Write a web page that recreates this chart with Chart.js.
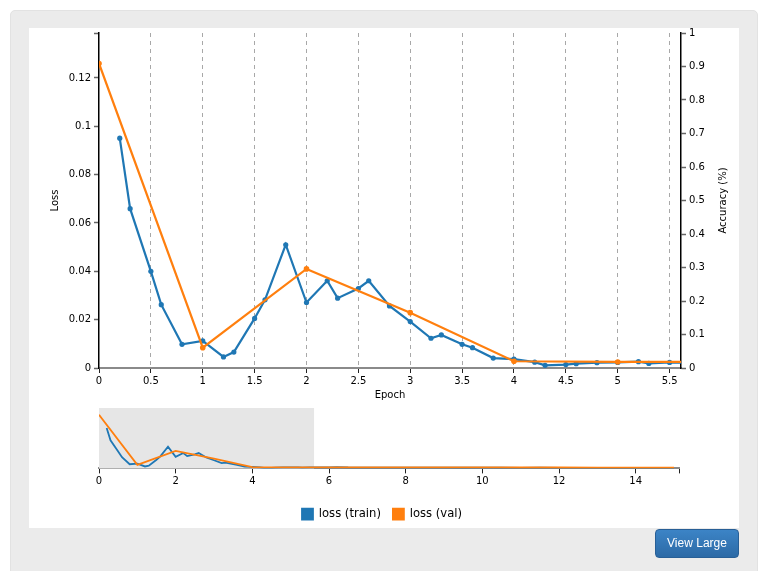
<!DOCTYPE html>
<html>
<head>
<meta charset="utf-8">
<script src="https://cdn.jsdelivr.net/npm/chart.js@4.4.0/dist/chart.umd.min.js"></script>
<style>
  body { margin: 0; background: #fff; width: 765px; height: 571px; overflow: hidden; position: relative; font-family: "DejaVu Sans", sans-serif; }
  #panel { position: absolute; left: 10px; top: 10px; width: 746px; height: 580px; background: #ebebeb; border: 1px solid #e2e2e2; border-radius: 5px; }
  #inner { position: absolute; left: 29px; top: 28px; width: 710px; height: 500px; background: #fff; }
  #main { position: absolute; left: 29px; top: 28px; }
  #mini { position: absolute; left: 29px; top: 400px; }
  #btn { position: absolute; left: 655px; top: 529px; width: 84px; height: 29px; box-sizing: border-box;
         background: linear-gradient(#3c84c6, #2c6aa6); border: 1px solid #285f96; border-radius: 4px;
         color: #fff; font: 12px "Liberation Sans", Arial, sans-serif; line-height: 27px; text-align: center; }
</style>
</head>
<body>
<div id="panel"></div>
<div id="inner"></div>
<canvas id="main" width="710" height="380"></canvas>
<canvas id="mini" width="710" height="130"></canvas>
<div id="btn">View Large</div>
<script>
// training loss, sampled inside each epoch
const trainEpoch = [0.2, 0.3, 0.5, 0.6, 0.8, 1.0, 1.2, 1.3, 1.5, 1.6, 1.8, 2.0, 2.2, 2.3, 2.5, 2.6, 2.8, 3.0,
  3.2, 3.3, 3.5, 3.6, 3.8, 4.0, 4.2, 4.3, 4.5, 4.6, 4.8, 5.0, 5.2, 5.3, 5.5, 5.8, 6.0, 6.2, 6.5, 7.0, 7.5,
  8.0, 8.5, 9.0, 9.5, 10.0, 10.5, 11.0, 11.5, 12.0, 12.5, 13.0, 13.5, 14.0, 14.5, 15.0];
const trainLoss = [0.0951, 0.0659, 0.0400, 0.0262, 0.0098, 0.0112, 0.0046, 0.0066, 0.0205, 0.0282, 0.0510,
  0.0271, 0.0361, 0.0289, 0.0329, 0.0361, 0.0257, 0.0192, 0.0123, 0.0137, 0.0098, 0.0084, 0.0041, 0.0037,
  0.0024, 0.0011, 0.0014, 0.0018, 0.0022, 0.0023, 0.0026, 0.0019, 0.0023, 0.0022, 0.0025, 0.0030, 0.0021,
  0.0019, 0.0018, 0.0017, 0.0016, 0.0016, 0.0015, 0.0016, 0.0015, 0.0014, 0.0015, 0.0014, 0.0014, 0.0013,
  0.0014, 0.0013, 0.0013, 0.0012];

// validation loss, once per epoch
const valEpoch = [0, 1, 2, 3, 4, 5, 6, 7, 8, 9, 10, 11, 12, 13, 14, 15];
const valLoss = [0.126, 0.0084, 0.041, 0.0229, 0.0028, 0.0025, 0.0026, 0.0024, 0.0023, 0.0022, 0.0022,
  0.0021, 0.0021, 0.0020, 0.0020, 0.0020];

const viewMax = 5.61;   // zoomed window shown in the big chart
const fullMax = 15.13;
const lossMax = 0.1386;

const BLUE = '#1f77b4';
const ORANGE = '#ff7f0e';
const tickFont = { family: 'DejaVu Sans', size: 10 };

function pts(xs, ys) {
  return xs.map((x, i) => ({ x: x, y: ys[i] }));
}
function fmt(v) {
  return String(Math.round(v * 1000) / 1000);
}
function fixWidth(w) {
  return s => { s.width = w; s.paddingTop = 0; s.paddingBottom = 0; };
}
// empty side axis, only there to hold space
function spacer(pos, w) {
  return { position: pos, display: true, afterFit: fixWidth(w),
           ticks: { display: false }, grid: { display: false }, border: { display: false } };
}

// right axis title reads bottom to top, like the left one
const accTitle = {
  id: 'accTitle',
  afterDraw(chart) {
    const { ctx, chartArea } = chart;
    const s = chart.scales.y1;
    ctx.save();
    ctx.translate(s.right - 16, (chartArea.top + chartArea.bottom) / 2);
    ctx.rotate(-Math.PI / 2);
    ctx.font = '10px "DejaVu Sans"';
    ctx.fillStyle = '#000';
    ctx.textAlign = 'center';
    ctx.textBaseline = 'middle';
    ctx.fillText('Accuracy (%)', 0, 0);
    ctx.restore();
  }
};

// BIG CHART
new Chart(document.getElementById('main'), {
  type: 'line',
  data: {
    datasets: [
      { label: 'loss (train)', data: pts(trainEpoch, trainLoss), borderColor: BLUE, backgroundColor: BLUE,
        borderWidth: 2.2, pointRadius: 2.6, pointBorderWidth: 0, tension: 0, order: 2 },
      { label: 'loss (val)', data: pts(valEpoch, valLoss), borderColor: ORANGE, backgroundColor: ORANGE,
        borderWidth: 2.2, pointRadius: 2.8, pointBorderWidth: 0, tension: 0, order: 1 }
    ]
  },
  options: {
    responsive: false,
    animation: false,
    layout: { padding: { top: 5, left: 0, right: 0, bottom: 0 } },
    plugins: { legend: { display: false }, tooltip: { enabled: false } },
    scales: {
      x: {
        type: 'linear', min: 0, max: viewMax,
        afterFit: s => { s.height = 40; },
        ticks: { stepSize: 0.5, includeBounds: false, font: tickFont, color: '#000', padding: 2, maxRotation: 0,
                 callback: v => fmt(v) },
        grid: { color: c => c.tick && c.tick.value === 0 ? 'rgba(0,0,0,0)' : '#a8a8a8', lineWidth: 1,
                tickLength: 5, tickColor: '#222', tickWidth: 1 },
        border: { color: '#8a8a8a', width: 2, dash: [4, 4] },
        title: { display: true, text: 'Epoch', font: tickFont, color: '#000', padding: { top: 0, bottom: 7 } }
      },
      y: {
        position: 'left', min: 0, max: lossMax,
        afterFit: fixWidth(70),
        ticks: { stepSize: 0.02, font: tickFont, color: '#000', padding: 3,
                 callback: v => (v > 0.13 ? '' : fmt(v)) },
        grid: { drawOnChartArea: false, tickLength: 5, tickColor: '#666', tickWidth: 1.5 },
        border: { color: '#000', width: 1.5 },
        title: { display: true, text: 'Loss', font: tickFont, color: '#000', padding: { top: 20, bottom: 0 } }
      },
      y1: {
        position: 'right', min: 0, max: 1,
        afterFit: fixWidth(58),
        ticks: { stepSize: 0.1, font: tickFont, color: '#000', padding: 3, callback: v => fmt(v) },
        grid: { drawOnChartArea: false, tickLength: 5, tickColor: '#666', tickWidth: 1.5 },
        border: { color: '#000', width: 1.5 }
      }
    }
  },
  plugins: [accTitle]
});

// grey box marking the zoom window on the overview
const brush = {
  id: 'brush',
  beforeDatasetsDraw(chart) {
    const { ctx, chartArea, scales } = chart;
    const x0 = scales.x.getPixelForValue(0);
    const x1 = scales.x.getPixelForValue(viewMax);
    ctx.save();
    ctx.fillStyle = '#e6e6e6';
    ctx.fillRect(x0, chartArea.top, x1 - x0, chartArea.bottom - chartArea.top);
    ctx.restore();
  }
};

// OVERVIEW
new Chart(document.getElementById('mini'), {
  type: 'line',
  data: {
    datasets: [
      { label: 'loss (train)', data: pts(trainEpoch, trainLoss), borderColor: BLUE, backgroundColor: BLUE,
        borderWidth: 1.8, pointRadius: 0, tension: 0, order: 2 },
      { label: 'loss (val)', data: pts(valEpoch, valLoss), borderColor: ORANGE, backgroundColor: ORANGE,
        borderWidth: 1.8, pointRadius: 0, tension: 0, order: 1 }
    ]
  },
  options: {
    responsive: false,
    animation: false,
    layout: { padding: { top: 8, left: 0, right: 4, bottom: 0 } },
    plugins: {
      tooltip: { enabled: false },
      legend: {
        position: 'bottom',
        labels: { boxWidth: 11, boxHeight: 11, padding: 12, color: '#000',
                  font: { family: 'DejaVu Sans', size: 11.6 },
                  sort: (a, b) => a.datasetIndex - b.datasetIndex }
      }
    },
    scales: {
      x: {
        type: 'linear', min: 0, max: fullMax,
        afterFit: s => { s.height = 28; },
        afterBuildTicks: s => { s.ticks.push({ value: fullMax }); },
        ticks: { stepSize: 2, includeBounds: false, font: tickFont, color: '#000', padding: 2, maxRotation: 0,
                 autoSkip: false, callback: v => (v > 15 ? '' : fmt(v)) },
        grid: { drawOnChartArea: false, tickLength: 5, tickColor: '#222', tickWidth: 1 },
        border: { color: '#8a8a8a', width: 2 }
      },
      y: Object.assign(spacer('left', 70), { min: 0, max: 0.142 }),
      yr: spacer('right', 56)
    }
  },
  plugins: [brush]
});
</script>
</body>
</html>
